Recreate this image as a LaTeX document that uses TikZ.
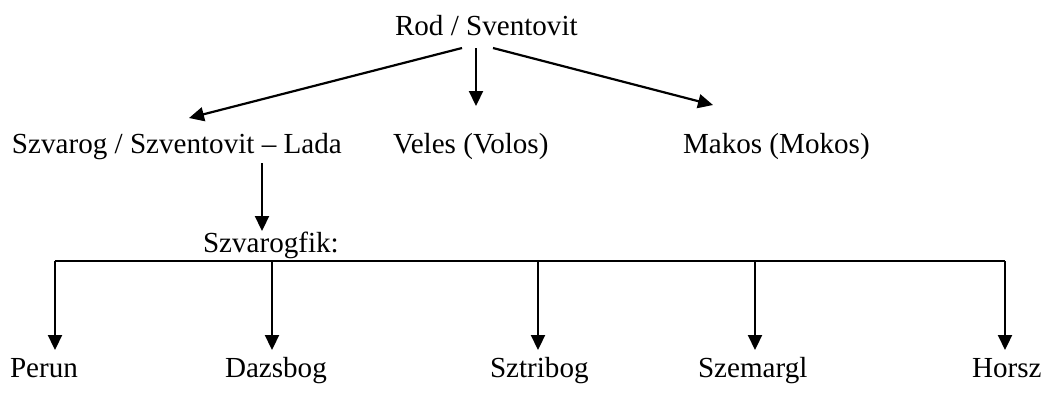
\documentclass[tikz,border=0pt]{standalone}
\usepackage{fontspec}
\setmainfont{Liberation Serif}
\usetikzlibrary{arrows.meta}
\begin{document}
\begin{tikzpicture}[x=1pt,y=-1pt,
  lbl/.style={anchor=base west,inner sep=0pt,outer sep=0pt,font=\fontsize{29.1}{34}\selectfont},
  arr/.style={line width=2.2pt,-{Triangle[length=15pt,width=14pt]}},
  bar/.style={line width=1.3pt}]
\useasboundingbox (0,0) rectangle (1043,392);
% nodes
\node[lbl] (rod) at (395,35) {Rod / Sventovit};
\node[lbl] (szv) at (12,153) {Szvarog / Szventovit – Lada};
\node[lbl] (vel) at (393,153) {Veles (Volos)};
\node[lbl] (mak) at (683,153) {Makos (Mokos)};
\node[lbl] (fik) at (203,252) {Szvarogfik:};
\node[lbl] (per) at (10,377) {Perun};
\node[lbl] (daz) at (225,377) {Dazsbog};
\node[lbl] (szt) at (490,377) {Sztribog};
\node[lbl] (sze) at (698,377) {Szemargl};
\node[lbl] (hor) at (972,377) {Horsz};
% connector ends
\coordinate (r1) at (462,48);
\coordinate (r2) at (476,48);
\coordinate (r3) at (493,48);
\coordinate (t1) at (189,118);
\coordinate (t2) at (476,106);
\coordinate (t3) at (713,105);
\coordinate (s0) at (262,163);
\coordinate (s1) at (262,231);
\coordinate (bl) at (55,261);
\coordinate (b2) at (272,261);
\coordinate (b3) at (538,261);
\coordinate (b4) at (755,261);
\coordinate (br) at (1005,261);
\coordinate (p1) at (55,350);
\coordinate (p2) at (272,350);
\coordinate (p3) at (538,350);
\coordinate (p4) at (755,350);
\coordinate (p5) at (1005,350);
% connectors
\draw[arr] (r1) -- (t1);
\draw[arr] (r2) -- (t2);
\draw[arr] (r3) -- (t3);
\draw[arr] (s0) -- (s1);
\draw[bar] (bl) -- (br);
\draw[arr] (bl) -- (p1);
\draw[arr] (b2) -- (p2);
\draw[arr] (b3) -- (p3);
\draw[arr] (b4) -- (p4);
\draw[arr] (br) -- (p5);
\end{tikzpicture}
\end{document}
